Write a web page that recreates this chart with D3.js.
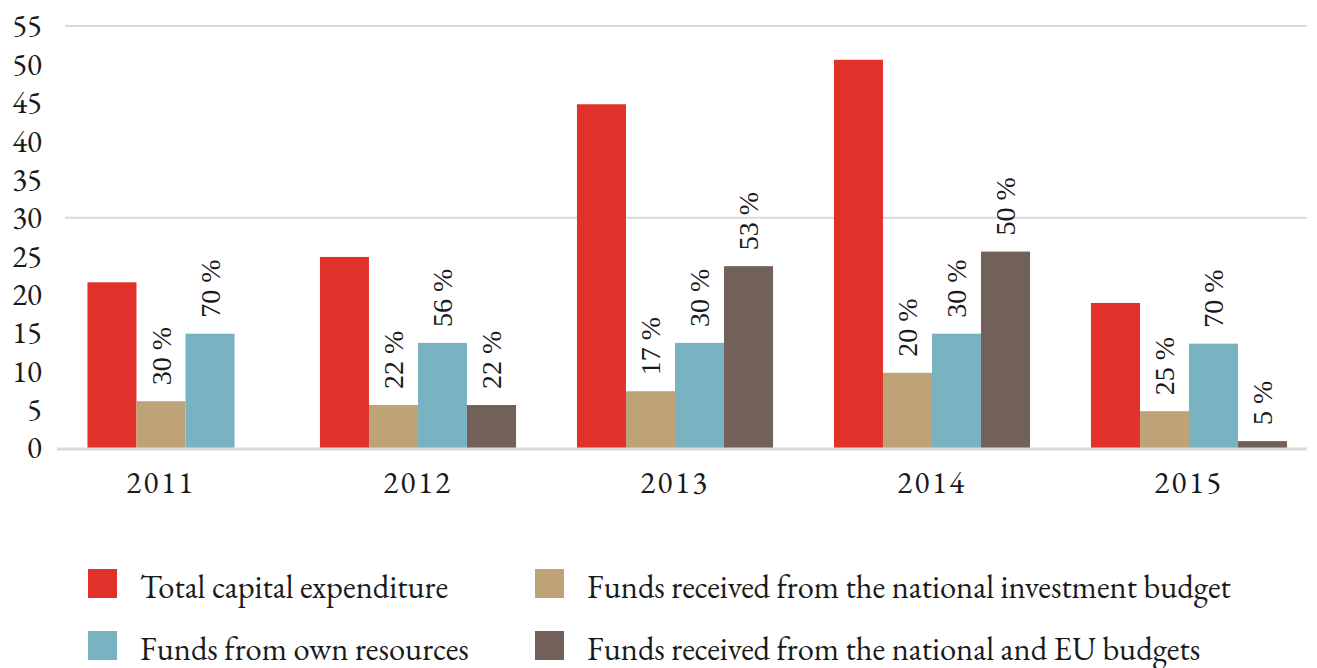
<!DOCTYPE html>
<html>
<head>
<meta charset="utf-8">
<script src="https://cdn.jsdelivr.net/npm/d3@7"></script>
<style>
  html, body { margin: 0; padding: 0; background: #fff; }
</style>
</head>
<body>
<div id="chart"></div>
<script>
// values (billions)
const years = ['2011', '2012', '2013', '2014', '2015'];
const totalCapex = [21.6, 24.9, 44.8, 50.6, 18.9];
const investBudget = [6.1, 5.6, 7.4, 9.8, 4.8];
const ownResources = [14.9, 13.7, 13.7, 14.9, 13.6];
const euBudgets = [null, 5.6, 23.7, 25.6, 0.9];

// share labels printed above the bars
const investPct = [30, 22, 17, 20, 25];
const ownPct = [70, 56, 30, 30, 70];
const euPct = [null, 22, 53, 50, 5];

const yTicks = [0, 5, 10, 15, 20, 25, 30, 35, 40, 45, 50, 55];
const gridValues = [30, 55];

const series = [
  { key: 'total', name: 'Total capital expenditure', color: '#e0322a', values: totalCapex, pct: null },
  { key: 'invest', name: 'Funds received from the national investment budget', color: '#bea377', values: investBudget, pct: investPct },
  { key: 'own', name: 'Funds from own resources', color: '#79b3c1', values: ownResources, pct: ownPct },
  { key: 'eu', name: 'Funds received from the national and EU budgets', color: '#716158', values: euBudgets, pct: euPct }
];

const GARAMOND = '"EB Garamond", "Liberation Serif", serif';
const TIMES = '"Liberation Serif", "Tinos", serif';
const ink = '#1a1a1a';

const width = 1317, height = 668;

const svg = d3.select('#chart').append('svg')
  .attr('width', width)
  .attr('height', height);

const y = d3.scaleLinear().domain([0, 55]).range([448, 26]);

const x = d3.scaleBand()
  .domain(years)
  .range([32.5, 1317.5])
  .paddingInner(0.237)
  .paddingOuter(0.1185);

const barW = x.bandwidth() / series.length;

// gridlines
svg.append('g').selectAll('line')
  .data(gridValues)
  .join('line')
  .attr('x1', 65).attr('x2', 1307)
  .attr('y1', d => y(d)).attr('y2', d => y(d))
  .attr('stroke', '#d9d9d9')
  .attr('stroke-width', 2);

// y axis labels
const yAxis = d3.axisLeft(y).tickValues(yTicks).tickSize(0).tickPadding(0);
svg.append('g')
  .attr('transform', 'translate(42,0)')
  .call(yAxis)
  .call(g => g.select('.domain').remove())
  .selectAll('text')
  .style('font-family', GARAMOND)
  .style('font-size', '31px')
  .style('fill', ink);

// bars grouped per year; a year without a value keeps its other bars centred
const groups = svg.append('g').selectAll('g')
  .data(years.map((yr, i) => ({
    year: yr,
    items: series.filter(s => s.values[i] != null).map(s => ({
      key: s.key, color: s.color, value: s.values[i], pct: s.pct ? s.pct[i] : null
    }))
  })))
  .join('g');

groups.each(function(d) {
  const c = x(d.year) + x.bandwidth() / 2;
  const n = d.items.length;
  const inner = d3.scaleBand()
    .domain(d.items.map(it => it.key))
    .range([c - n * barW / 2, c + n * barW / 2]);
  const g = d3.select(this);

  g.selectAll('rect')
    .data(d.items)
    .join('rect')
    .attr('x', it => inner(it.key))
    .attr('y', it => y(it.value))
    .attr('width', inner.bandwidth())
    .attr('height', it => y(0) - y(it.value))
    .attr('fill', it => it.color);

  g.selectAll('text.pct')
    .data(d.items.filter(it => it.pct != null))
    .join('text')
    .attr('class', 'pct')
    .attr('transform', it => 'translate(' + (inner(it.key) + inner.bandwidth() / 2) + ',' + (y(it.value) - 16) + ') rotate(-90)')
    .attr('dy', '0.35em')
    .style('font-family', TIMES)
    .style('font-size', '28px')
    .style('fill', ink)
    .text(it => it.pct + ' %');
});

// baseline
svg.append('line')
  .attr('x1', 57).attr('x2', 1307)
  .attr('y1', y(0) + 1).attr('y2', y(0) + 1)
  .attr('stroke', '#d9d9d9')
  .attr('stroke-width', 3);

// year labels
const xAxis = d3.axisBottom(x).tickSize(0).tickPadding(0);
svg.append('g')
  .attr('transform', 'translate(0,471)')
  .call(xAxis)
  .call(g => g.select('.domain').remove())
  .selectAll('text')
  .attr('dy', '0.71em')
  .style('font-family', GARAMOND)
  .style('font-size', '31px')
  .style('letter-spacing', '2.5px')
  .style('fill', ink);

// legend, two columns
const legend = svg.append('g').selectAll('g')
  .data(series)
  .join('g')
  .attr('transform', (d, i) => 'translate(' + (i % 2 === 0 ? 88 : 535) + ',' + (i < 2 ? 569 : 631) + ')');

legend.append('rect')
  .attr('width', 29).attr('height', 29)
  .attr('fill', d => d.color);

legend.append('text')
  .attr('x', 52)
  .attr('y', 29)
  .style('font-family', GARAMOND)
  .style('font-size', '32.5px')
  .style('fill', ink)
  .text(d => d.name);
</script>
</body>
</html>
